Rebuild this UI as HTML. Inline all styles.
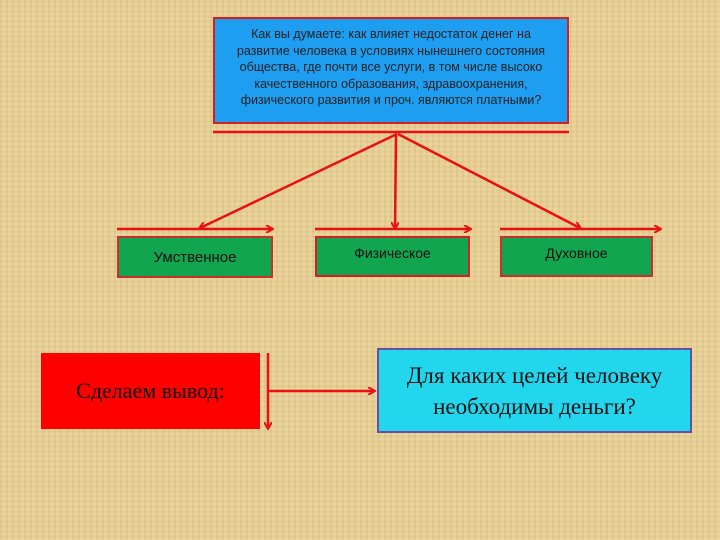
<!DOCTYPE html>
<html><head><meta charset="utf-8"><style>
body{margin:0;width:720px;height:540px;overflow:hidden;background:#e6cd92;
background-image:repeating-linear-gradient(0deg,rgba(255,255,255,.12) 0 2px,rgba(0,0,0,0) 2px 5px),repeating-linear-gradient(90deg,rgba(160,120,60,.10) 0 2px,rgba(0,0,0,0) 2px 6px);
position:relative;font-family:"Liberation Sans",sans-serif}
.b{position:absolute;box-sizing:border-box;display:flex;align-items:center;justify-content:center;text-align:center}
</style></head><body>
<div class="b" style="left:213px;top:17px;width:356px;height:107px;background:#1e9ef0;border:2px solid #d42020;font-size:12.5px;line-height:16.5px;color:#222;white-space:nowrap;padding-bottom:6px">Как вы думаете: как влияет недостаток денег на<br>развитие человека в условиях нынешнего состояния<br>общества, где почти все услуги, в том числе высоко<br>качественного образования, здравоохранения,<br>физического развития и проч. являются платными?</div>
<div class="b" style="left:117px;top:236px;width:156px;height:42px;background:#12a550;border:2px solid #c8302a;font-size:15px;color:#111">Умственное</div>
<div class="b" style="left:315px;top:236px;width:155px;height:41px;background:#12a550;border:2px solid #d42020;font-size:14px;color:#111;padding-bottom:8px">Физическое</div>
<div class="b" style="left:500px;top:236px;width:153px;height:41px;background:#12a550;border:2px solid #c8302a;font-size:14px;color:#111;padding-bottom:8px">Духовное</div>
<div class="b" style="left:41px;top:353px;width:219px;height:76px;background:#fe0000;font-family:'Liberation Serif',serif;font-size:22px;color:#111">Сделаем вывод:</div>
<div class="b" style="left:377px;top:348px;width:315px;height:85px;background:#22d6ee;border:2px solid #6a4ea0;font-family:'Liberation Serif',serif;font-size:23px;line-height:31px;color:#111">Для каких целей человеку<br>необходимы деньги?</div>
<svg width="720" height="540" style="position:absolute;left:0;top:0">
<defs><marker id="a" markerWidth="8" markerHeight="8" refX="6" refY="4" orient="auto" markerUnits="userSpaceOnUse"><path d="M0,0 L7,4 L0,8" fill="none" stroke="#e81010" stroke-width="2"/></marker></defs>
<g stroke="#e81010" stroke-width="2.5" fill="none">
<line x1="213" y1="132" x2="569" y2="132"/>
<line x1="397" y1="134" x2="200" y2="228" marker-end="url(#a)"/>
<line x1="396" y1="134" x2="395" y2="228" marker-end="url(#a)"/>
<line x1="398" y1="134" x2="580" y2="228" marker-end="url(#a)"/>
<line x1="117" y1="229" x2="272" y2="229" marker-end="url(#a)"/>
<line x1="315" y1="229" x2="470" y2="229" marker-end="url(#a)"/>
<line x1="500" y1="229" x2="660" y2="229" marker-end="url(#a)"/>
<line x1="268" y1="353" x2="268" y2="428" marker-end="url(#a)"/>
<line x1="268" y1="391" x2="374" y2="391" marker-end="url(#a)"/>
</g></svg>
</body></html>
